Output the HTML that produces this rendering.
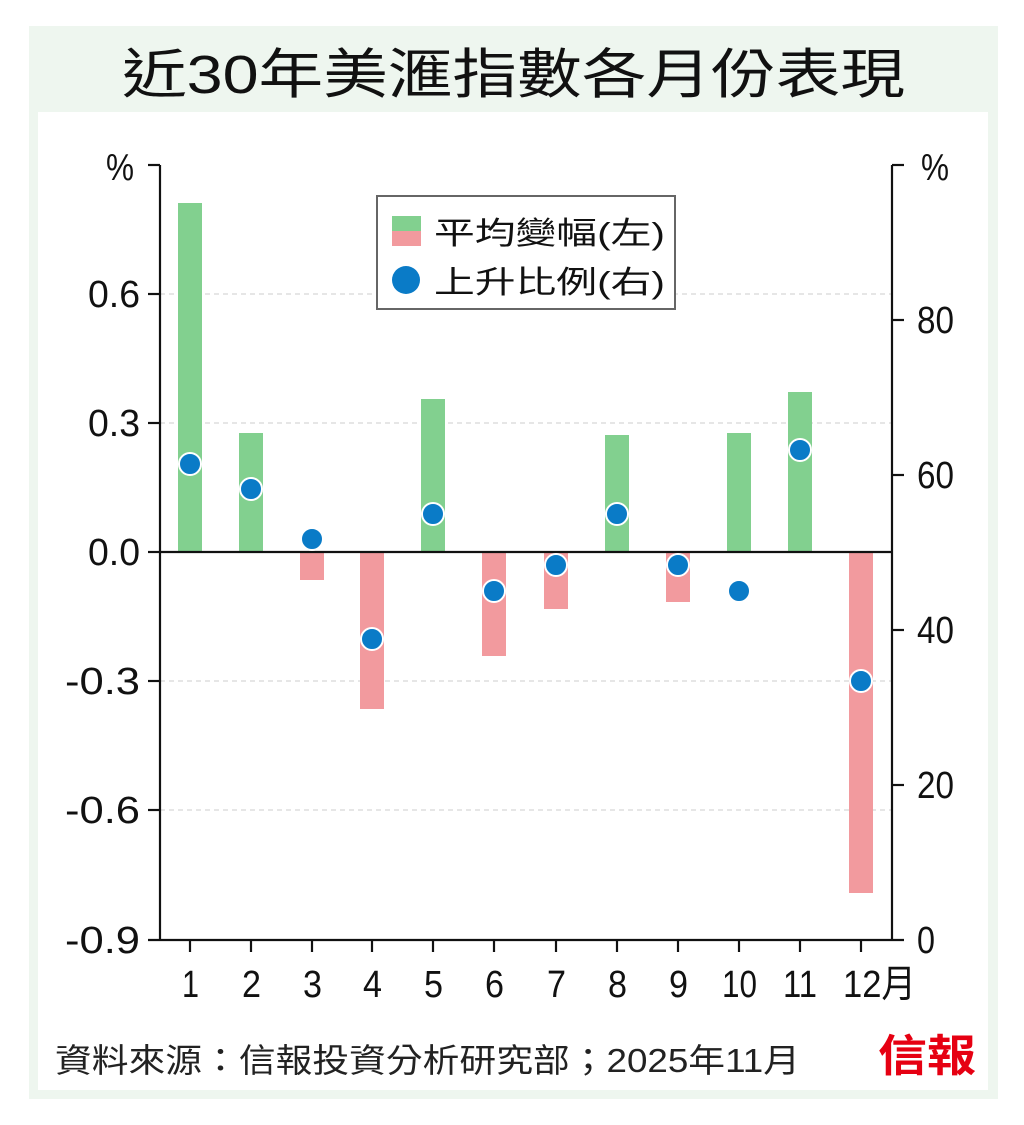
<!DOCTYPE html>
<html><head><meta charset="utf-8"><style>
html,body{margin:0;padding:0;background:#fff;}
svg{display:block;}
text{font-family:"Liberation Sans","Noto Sans CJK TC",sans-serif;}
</style></head><body>
<svg width="1024" height="1125" viewBox="0 0 1024 1125" xmlns="http://www.w3.org/2000/svg">
<rect x="0" y="0" width="1024" height="1125" fill="#fff"/>
<rect x="29" y="26" width="969" height="1073" fill="#eef6ef"/>
<rect x="38" y="112" width="950" height="978" fill="#fff"/>
<text x="122" y="93" font-size="54" textLength="783" lengthAdjust="spacingAndGlyphs" fill="#111">近30年美滙指數各月份表現</text>

<g stroke="#d6d6d6" stroke-width="1.2" stroke-dasharray="5,4">
<line x1="160" y1="294" x2="892" y2="294"/>
<line x1="160" y1="423" x2="892" y2="423"/>
<line x1="160" y1="681" x2="892" y2="681"/>
<line x1="160" y1="810" x2="892" y2="810"/>
</g>

<g fill="#82d08f">
<rect x="178" y="203" width="24" height="349"/>
<rect x="239" y="433" width="24" height="119"/>
<rect x="421" y="399" width="24" height="153"/>
<rect x="605" y="435" width="24" height="117"/>
<rect x="727" y="433" width="24" height="119"/>
<rect x="788" y="392" width="24" height="160"/>
</g>
<g fill="#f29a9e">
<rect x="300" y="552" width="24" height="28"/>
<rect x="360" y="552" width="24" height="157"/>
<rect x="482" y="552" width="24" height="104"/>
<rect x="544" y="552" width="24" height="57"/>
<rect x="666" y="552" width="24" height="50"/>
<rect x="849" y="552" width="24" height="341"/>
</g>

<g stroke="#111" stroke-width="2.2" fill="none">
<line x1="160" y1="165" x2="160" y2="940"/>
<line x1="892" y1="165" x2="892" y2="940"/>
<line x1="148" y1="940" x2="904" y2="940"/>
<line x1="160" y1="552" x2="892" y2="552"/>
<line x1="148" y1="165" x2="160" y2="165"/>
<line x1="148" y1="294" x2="160" y2="294"/>
<line x1="148" y1="423" x2="160" y2="423"/>
<line x1="148" y1="552" x2="160" y2="552"/>
<line x1="148" y1="681" x2="160" y2="681"/>
<line x1="148" y1="810" x2="160" y2="810"/>
<line x1="892" y1="165" x2="904" y2="165"/>
<line x1="892" y1="320" x2="904" y2="320"/>
<line x1="892" y1="475" x2="904" y2="475"/>
<line x1="892" y1="630" x2="904" y2="630"/>
<line x1="892" y1="785" x2="904" y2="785"/>
<line x1="190" y1="940" x2="190" y2="952"/>
<line x1="251" y1="940" x2="251" y2="952"/>
<line x1="312" y1="940" x2="312" y2="952"/>
<line x1="372" y1="940" x2="372" y2="952"/>
<line x1="433" y1="940" x2="433" y2="952"/>
<line x1="494" y1="940" x2="494" y2="952"/>
<line x1="556" y1="940" x2="556" y2="952"/>
<line x1="617" y1="940" x2="617" y2="952"/>
<line x1="678" y1="940" x2="678" y2="952"/>
<line x1="739" y1="940" x2="739" y2="952"/>
<line x1="800" y1="940" x2="800" y2="952"/>
<line x1="861" y1="940" x2="861" y2="952"/>
</g>

<g fill="#0a7bc7" stroke="#fff" stroke-width="2">
<circle cx="190" cy="464" r="11"/>
<circle cx="251" cy="489" r="11"/>
<circle cx="312" cy="539" r="11"/>
<circle cx="372" cy="639" r="11"/>
<circle cx="433" cy="514" r="11"/>
<circle cx="494" cy="591" r="11"/>
<circle cx="556" cy="565" r="11"/>
<circle cx="617" cy="514" r="11"/>
<circle cx="678" cy="565" r="11"/>
<circle cx="739" cy="591" r="11"/>
<circle cx="800" cy="450" r="11"/>
<circle cx="861" cy="681" r="11"/>
</g>

<g font-size="38" fill="#111" lengthAdjust="spacingAndGlyphs">
<text x="106" y="180" textLength="28" lengthAdjust="spacingAndGlyphs">%</text>
<text x="88" y="307" textLength="52" lengthAdjust="spacingAndGlyphs">0.6</text>
<text x="88" y="436" textLength="52" lengthAdjust="spacingAndGlyphs">0.3</text>
<text x="88" y="565" textLength="52" lengthAdjust="spacingAndGlyphs">0.0</text>
<text x="65" y="694" textLength="75" lengthAdjust="spacingAndGlyphs">-0.3</text>
<text x="65" y="823" textLength="75" lengthAdjust="spacingAndGlyphs">-0.6</text>
<text x="65" y="953" textLength="75" lengthAdjust="spacingAndGlyphs">-0.9</text>
<text x="921" y="180" textLength="28" lengthAdjust="spacingAndGlyphs">%</text>
<text x="917" y="333" textLength="37" lengthAdjust="spacingAndGlyphs">80</text>
<text x="917" y="488" textLength="37" lengthAdjust="spacingAndGlyphs">60</text>
<text x="917" y="643" textLength="37" lengthAdjust="spacingAndGlyphs">40</text>
<text x="917" y="798" textLength="37" lengthAdjust="spacingAndGlyphs">20</text>
<text x="917" y="953" textLength="18" lengthAdjust="spacingAndGlyphs">0</text>
</g>
<g font-size="38" fill="#111">
<text x="182" y="997" textLength="17" lengthAdjust="spacingAndGlyphs">1</text>
<text x="242" y="997" textLength="19" lengthAdjust="spacingAndGlyphs">2</text>
<text x="303" y="997" textLength="19" lengthAdjust="spacingAndGlyphs">3</text>
<text x="363" y="997" textLength="19" lengthAdjust="spacingAndGlyphs">4</text>
<text x="424" y="997" textLength="19" lengthAdjust="spacingAndGlyphs">5</text>
<text x="485" y="997" textLength="19" lengthAdjust="spacingAndGlyphs">6</text>
<text x="547" y="997" textLength="19" lengthAdjust="spacingAndGlyphs">7</text>
<text x="608" y="997" textLength="19" lengthAdjust="spacingAndGlyphs">8</text>
<text x="669" y="997" textLength="19" lengthAdjust="spacingAndGlyphs">9</text>
<text x="722" y="997" textLength="35" lengthAdjust="spacingAndGlyphs">10</text>
<text x="783" y="997" textLength="34" lengthAdjust="spacingAndGlyphs">11</text>
<text x="843" y="997" textLength="73" lengthAdjust="spacingAndGlyphs">12月</text>
</g>

<rect x="377" y="196" width="298" height="113" fill="#fff" stroke="#666" stroke-width="2"/>
<rect x="392" y="216" width="29" height="15" fill="#82d08f"/>
<rect x="392" y="231" width="29" height="15" fill="#f29a9e"/>
<circle cx="406" cy="280" r="14" fill="#0a7bc7"/>
<text x="434" y="244" font-size="31" fill="#111" textLength="231" lengthAdjust="spacingAndGlyphs">平均變幅(左)</text>
<text x="434" y="293" font-size="31" fill="#111" textLength="231" lengthAdjust="spacingAndGlyphs">上升比例(右)</text>

<text x="55" y="1072" font-size="33" fill="#222" textLength="745" lengthAdjust="spacingAndGlyphs">資料來源：信報投資分析研究部；2025年11月</text>
<text x="878" y="1071" font-size="44" font-weight="bold" fill="#e60012" font-family="'Noto Serif CJK SC','Noto Sans CJK TC',serif" textLength="98" lengthAdjust="spacingAndGlyphs">信報</text>
</svg>
</body></html>
